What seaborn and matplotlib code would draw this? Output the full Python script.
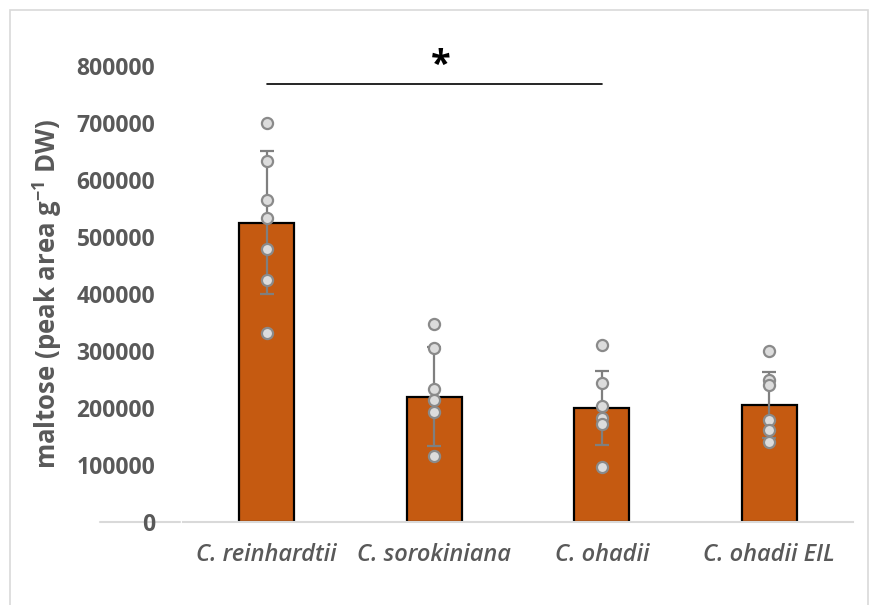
import matplotlib
matplotlib.use("Agg")
import matplotlib.pyplot as plt
from matplotlib.patches import Rectangle
from matplotlib.lines import Line2D
import seaborn as sns
import pandas as pd
import numpy as np

# Strains and measurements
strains = ["C. reinhardtii", "C. sorokiniana", "C. ohadii", "C. ohadii EIL"]
mean_maltose = [525000, 220000, 200000, 205000]
sd_maltose = [125000, 87000, 65000, 58000]
replicates = [
    [700000, 633000, 565000, 533000, 479000, 425000, 332000],
    [348000, 305000, 234000, 214000, 193000, 116000],
    [310000, 243000, 203000, 182000, 172000, 97000],
    [300000, 249000, 240000, 179000, 161000, 141000],
]
y_ticks = [0, 100000, 200000, 300000, 400000, 500000, 600000, 700000, 800000]

sns.set_theme(style="white")
plt.rcParams["font.family"] = ["Open Sans", "DejaVu Sans"]
plt.rcParams["mathtext.fontset"] = "custom"
plt.rcParams["mathtext.rm"] = "Open Sans"
plt.rcParams["mathtext.bf"] = "Open Sans:bold"

W, H = 871, 605
fig = plt.figure(figsize=(W / 100, H / 100), dpi=100)
ax = fig.add_axes([183 / W, 1 - 522 / H, (853 - 183) / W, (522 - 66) / H])

bar_df = pd.DataFrame({"strain": strains, "maltose": mean_maltose})
pts_df = pd.DataFrame(
    [(s, v) for s, vals in zip(strains, replicates) for v in vals],
    columns=["strain", "maltose"],
)

sns.barplot(data=bar_df, x="strain", y="maltose", order=strains, color="#C55A11",
            width=0.33, edgecolor="black", linewidth=1.6, errorbar=None,
            saturation=1, ax=ax, zorder=2)
ax.errorbar(np.arange(len(strains)), mean_maltose, yerr=sd_maltose, fmt="none",
            ecolor="#7f7f7f", elinewidth=1.6, capsize=5, capthick=1.6, zorder=3)
sns.stripplot(data=pts_df, x="strain", y="maltose", order=strains, jitter=False,
              color="#dcdcdc", edgecolor="#8a8a8a", linewidth=1.6, size=8,
              ax=ax, zorder=4)

ax.set_xlim(-0.5, 3.5)
ax.set_ylim(0, 800000)
ax.set_yticks(y_ticks)
ax.set_yticklabels([str(t) for t in y_ticks], fontsize=16.5, fontweight="bold",
                   color="#595959")
ax.set_xticks(range(len(strains)))
ax.set_xticklabels(strains, fontsize=17, fontstyle="italic", fontweight="semibold",
                   color="#595959")
ax.tick_params(axis="y", length=0, pad=20)
ax.tick_params(axis="x", length=0, pad=15)
ax.set_xlabel("")
ax.set_ylabel("")
for side in ["top", "right", "left"]:
    ax.spines[side].set_visible(False)
ax.spines["bottom"].set_color("#d9d9d9")
ax.spines["bottom"].set_linewidth(1.5)
ax.grid(False)

fig.text(47 / W, 1 - 294 / H, r"maltose (peak area g$^{\mathbf{-1}}$ DW)",
         rotation=90, ha="center", va="center", fontsize=18.5,
         fontweight="bold", color="#595959")

# Significance bracket between C. reinhardtii and C. ohadii
ax.plot([0, 2], [768000, 768000], color="black", linewidth=1.2, clip_on=False)
ax.text(1.04, 800000, "*", ha="center", va="center", fontsize=26,
        fontweight="bold", color="black", clip_on=False)

# Baseline stub under the zero label and the outer chart frame
fig.add_artist(Line2D([100 / W, 180 / W], [1 - 522 / H, 1 - 522 / H],
                      color="#d9d9d9", linewidth=1.5, zorder=0))
fig.add_artist(Rectangle((10 / W, -0.05), 858 / W, 1.05 - 10 / H, fill=False,
                         edgecolor="#d9d9d9", linewidth=1.2))

fig.savefig("out.png", dpi=100)
